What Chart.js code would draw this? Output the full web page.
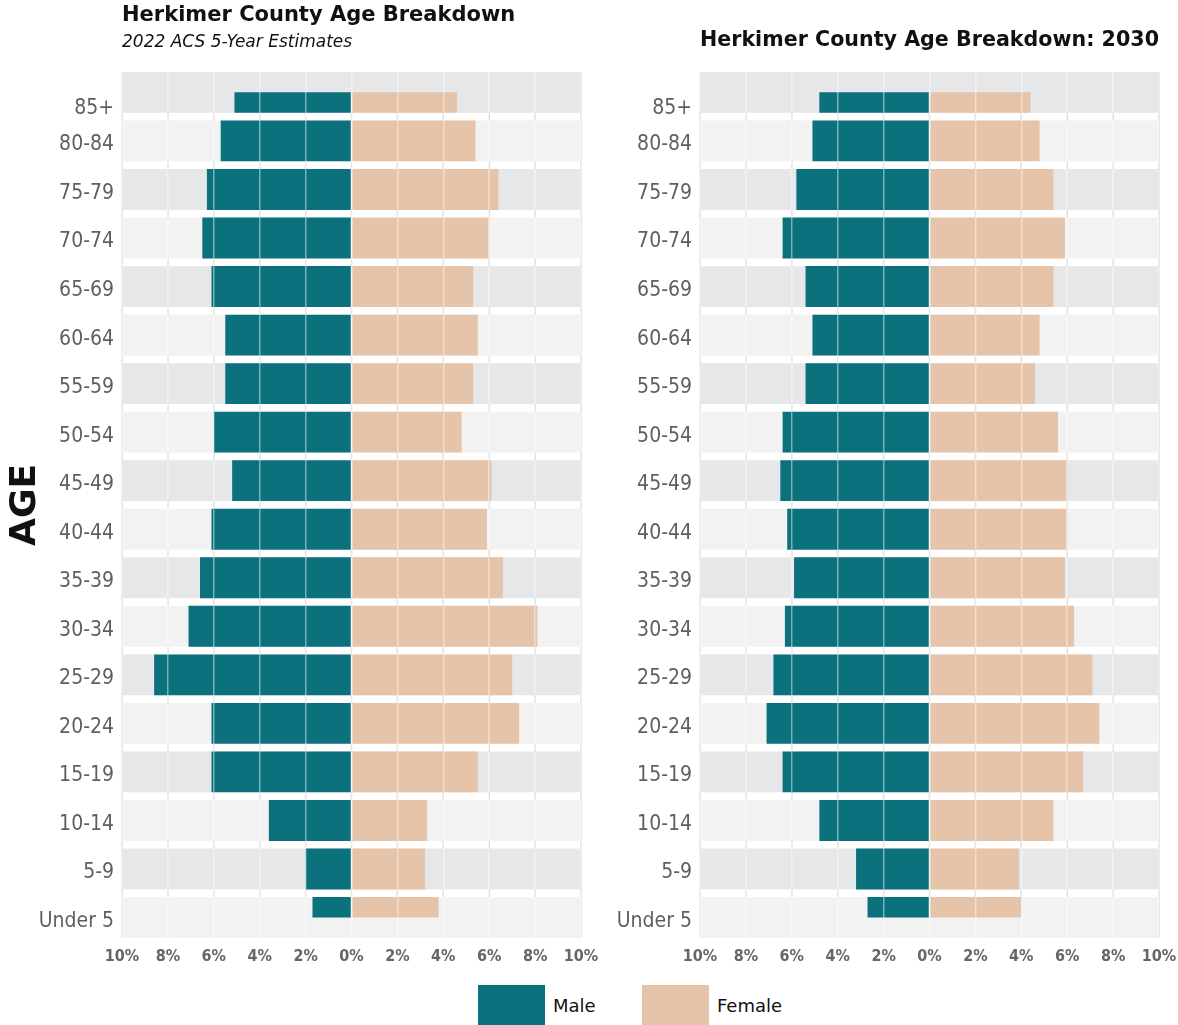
<!DOCTYPE html>
<html>
<head>
<meta charset="utf-8">
<script src="https://cdn.jsdelivr.net/npm/chart.js@4.4.1/dist/chart.umd.min.js"></script>
<style>
  html, body { margin: 0; padding: 0; background: #fff; }
  body { width: 1178px; height: 1025px; position: relative; overflow: hidden; }
  .panel { position: absolute; top: 0; height: 975px; }
  #left-panel { left: 0; width: 600px; }
  #right-panel { left: 590px; width: 588px; }
  #legend { position: absolute; top: 985px; left: 0; width: 1178px; height: 40px; }
  .key { position: absolute; top: 0; height: 40px; display: flex; align-items: center;
         font-family: 'DejaVu Sans', sans-serif; font-size: 18px; color: #111; }
  .swatch { width: 67px; height: 40px; margin-right: 8px; }
</style>
</head>
<body>
<div class="panel" id="left-panel"><canvas id="pyramid2022"></canvas></div>
<div class="panel" id="right-panel"><canvas id="pyramid2030"></canvas></div>
<div id="legend">
  <div class="key" style="left:478px"><div class="swatch" style="background:#0a717d"></div>Male</div>
  <div class="key" style="left:642px"><div class="swatch" style="background:#e5c4aa"></div>Female</div>
</div>
<script>
const ageGroups = ['85+', '80-84', '75-79', '70-74', '65-69', '60-64', '55-59', '50-54', '45-49',
  '40-44', '35-39', '30-34', '25-29', '20-24', '15-19', '10-14', '5-9', 'Under 5'];

// percent of population
const male2022 = [5.1, 5.7, 6.3, 6.5, 6.1, 5.5, 5.5, 6.0, 5.2, 6.1, 6.6, 7.1, 8.6, 6.1, 6.1, 3.6, 2.0, 1.7];
const female2022 = [4.6, 5.4, 6.4, 6.0, 5.3, 5.5, 5.3, 4.8, 6.1, 5.9, 6.6, 8.1, 7.0, 7.3, 5.5, 3.3, 3.2, 3.8];
const male2030 = [4.8, 5.1, 5.8, 6.4, 5.4, 5.1, 5.4, 6.4, 6.5, 6.2, 5.9, 6.3, 6.8, 7.1, 6.4, 4.8, 3.2, 2.7];
const female2030 = [4.4, 4.8, 5.4, 5.9, 5.4, 4.8, 4.6, 5.6, 6.0, 6.0, 5.9, 6.3, 7.1, 7.4, 6.7, 5.4, 3.9, 4.0];

const xTicks = [-10, -8, -6, -4, -2, 0, 2, 4, 6, 8, 10];

const TEAL = '#0a717d';
const TAN = '#e5c4aa';
const BAND_DARK = '#e6e7e9';
const BAND_LIGHT = '#f2f2f2';
const BAND_RATIO = 0.842;
const NARROW = "'Liberation Sans Narrow', 'DejaVu Sans Condensed', 'Roboto Condensed', sans-serif";

const last = ageGroups.length - 1;
const isEdge = i => i === 0 || i === last;

// grey row bands behind the bars
const rowBands = {
  id: 'rowBands',
  beforeDatasetsDraw(chart) {
    const { ctx, chartArea, scales: { x, y } } = chart;
    const pitch = y.getPixelForValue(1) - y.getPixelForValue(0);
    const half = pitch * BAND_RATIO / 2;
    const top = y.getPixelForValue(0) - half;
    const bottom = y.getPixelForValue(last) + half;
    ctx.save();
    ctx.strokeStyle = '#d6d6d6';
    ctx.lineWidth = 1.5;
    xTicks.forEach(t => {
      const px = x.getPixelForValue(t);
      ctx.beginPath();
      ctx.moveTo(px, top);
      ctx.lineTo(px, bottom);
      ctx.stroke();
    });
    ageGroups.forEach((_, i) => {
      const cy = y.getPixelForValue(i);
      ctx.fillStyle = i % 2 === 0 ? BAND_DARK : BAND_LIGHT;
      ctx.fillRect(chartArea.left, cy - half, chartArea.right - chartArea.left, half * 2);
    });
    ctx.restore();
  }
};

function makePyramid(id, male, female, cfg) {
  const edgeBar = { grouped: true, skipNull: true, categoryPercentage: BAND_RATIO, barPercentage: 1 };
  const mainBar = { grouped: false, categoryPercentage: BAND_RATIO, barPercentage: 1 };
  return new Chart(document.getElementById(id), {
    type: 'bar',
    data: {
      labels: ageGroups,
      datasets: [
        { ...edgeBar, label: 'padTop', stack: 'padTop', backgroundColor: 'rgba(0,0,0,0)',
          data: ageGroups.map((_, i) => i === 0 ? 0 : null) },
        { ...mainBar, label: 'Male', stack: 'm', backgroundColor: TEAL,
          data: male.map((v, i) => isEdge(i) ? null : -v) },
        { ...mainBar, label: 'Female', stack: 'f', backgroundColor: TAN,
          data: female.map((v, i) => isEdge(i) ? null : v) },
        { ...edgeBar, label: 'Male', stack: 'edge', backgroundColor: TEAL,
          data: male.map((v, i) => isEdge(i) ? -v : null) },
        { ...edgeBar, label: 'Female', stack: 'edge', backgroundColor: TAN,
          data: female.map((v, i) => isEdge(i) ? v : null) },
        { ...edgeBar, label: 'padBottom', stack: 'padBottom', backgroundColor: 'rgba(0,0,0,0)',
          data: ageGroups.map((_, i) => i === last ? 0 : null) }
      ]
    },
    options: {
      indexAxis: 'y',
      responsive: true,
      maintainAspectRatio: false,
      animation: false,
      layout: { padding: { left: 0, right: cfg.padRight, top: 0, bottom: 0 } },
      plugins: {
        legend: { display: false },
        tooltip: { enabled: false },
        title: {
          display: true,
          text: cfg.title,
          align: cfg.titleAlign,
          fullSize: false,
          color: '#111',
          font: { family: "'DejaVu Sans', sans-serif", size: 21, weight: 'bold' },
          padding: cfg.titlePadding
        },
        subtitle: {
          display: !!cfg.subtitle,
          text: cfg.subtitle || '',
          align: 'start',
          fullSize: false,
          color: '#111',
          font: { family: "'DejaVu Sans', sans-serif", size: 17, style: 'italic' },
          padding: { top: 0, bottom: 15.5 }
        }
      },
      scales: {
        x: {
          type: 'linear',
          min: -10,
          max: 10,
          afterBuildTicks: axis => { axis.ticks = xTicks.map(v => ({ value: v })); },
          afterFit: axis => {
            axis.height = 31;
            axis.paddingLeft = 0;
            axis.paddingRight = 0;
          },
          grid: { color: 'rgba(255,255,255,0.45)', lineWidth: 1.5, z: 1, drawTicks: false },
          border: { display: false },
          ticks: {
            padding: 5,
            color: '#666',
            font: { family: NARROW, size: 16, weight: 'bold' },
            callback: v => Math.abs(v) + '%'
          }
        },
        y: {
          afterFit: axis => { axis.width = cfg.axisWidth; },
          grid: { display: false, drawTicks: false },
          border: { display: false },
          ticks: {
            autoSkip: false,
            padding: 8,
            labelOffset: 4,
            color: '#5f5f5f',
            font: { family: NARROW, size: 21 },
            // the 85+ label sits level with its half-height bar
            callback: (v, i) => i === 0 ? ['', ageGroups[i]] : ageGroups[i]
          },
          title: {
            display: !!cfg.axisTitle,
            text: cfg.axisTitle || '',
            color: '#111',
            font: { family: "'DejaVu Sans', sans-serif", size: 36, weight: 'bold' },
            padding: { top: 4, bottom: 0 }
          }
        }
      }
    },
    plugins: [rowBands]
  });
}

makePyramid('pyramid2022', male2022, female2022, {
  title: 'Herkimer County Age Breakdown',
  subtitle: '2022 ACS 5-Year Estimates',
  titleAlign: 'start',
  titlePadding: { top: 3, bottom: 4 },
  axisTitle: 'AGE',
  axisWidth: 122,
  padRight: 19
});

makePyramid('pyramid2030', male2030, female2030, {
  title: 'Herkimer County Age Breakdown: 2030',
  titleAlign: 'end',
  titlePadding: { top: 28.4, bottom: 14.5 },
  axisWidth: 110,
  padRight: 19
});
</script>
</body>
</html>
